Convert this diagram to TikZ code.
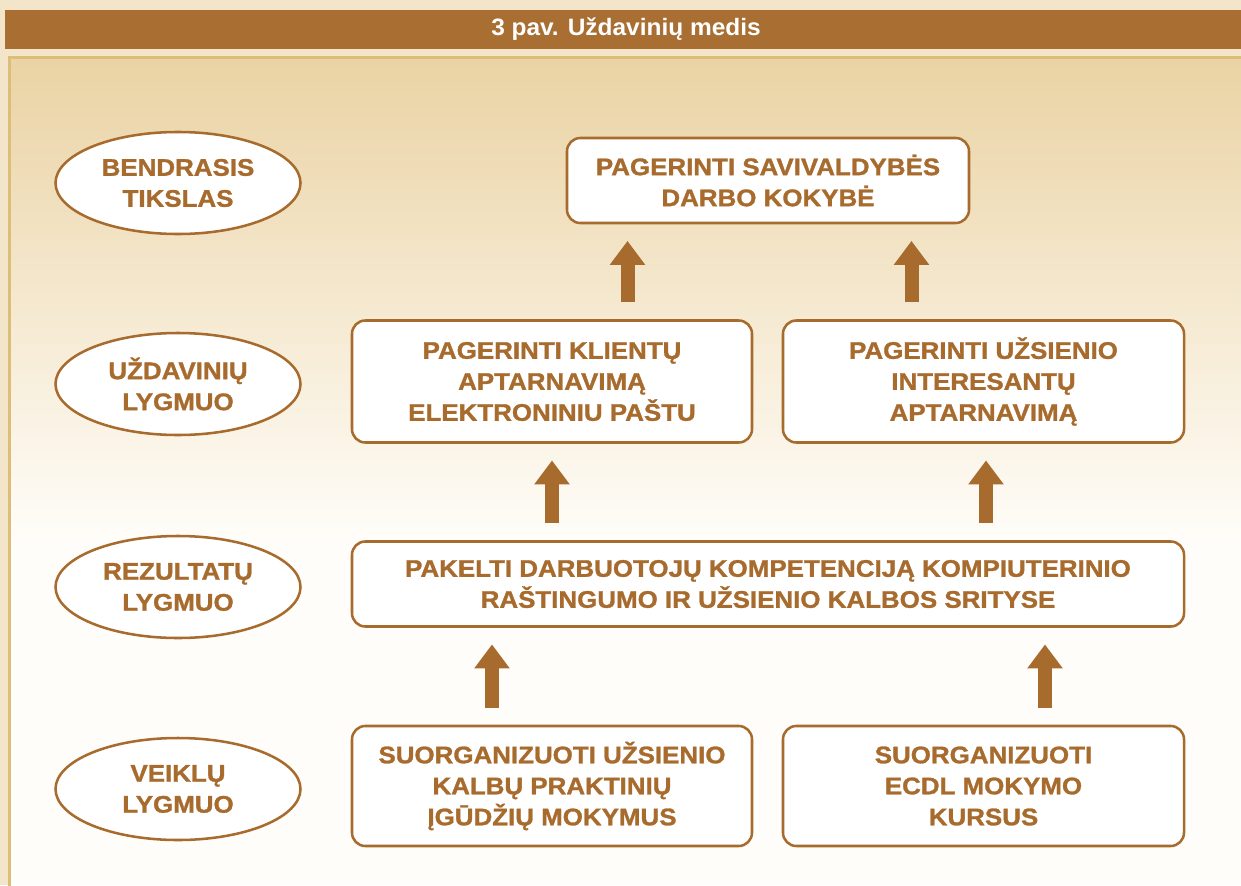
\documentclass[tikz,border=0pt]{standalone}
\usepackage{fontspec}
\setmainfont{Liberation Sans}
\newfontfamily\boxfont{Liberation Sans}[FakeStretch=1.08,FakeBold=1.2]
\newfontfamily\titlefont{Liberation Sans}[FakeStretch=1.03]
\usetikzlibrary{arrows.meta,shapes.geometric}
\definecolor{brn}{HTML}{A86B2E}
\definecolor{titlebar}{HTML}{A86E32}
\definecolor{pagebg}{HTML}{F3E5C9}
\definecolor{paneltop}{HTML}{EAD3A4}
\definecolor{panelbot}{HTML}{FFFDF9}
\definecolor{panelline}{HTML}{DDBE78}
\tikzset{
  lvl/.style={ellipse, draw=brn, line width=1.9pt, fill=white, text=brn,
    minimum width=183.75pt, minimum height=76.5pt, inner sep=0pt, align=center,
    font=\boxfont\bfseries\fontsize{18}{23.25}\selectfont},
  goalbox/.style={draw=brn, line width=1.9pt, rounded corners=10pt, fill=white, text=brn,
    inner sep=0pt, align=center, font=\boxfont\bfseries\fontsize{18}{23.25}\selectfont},
  bigarrow/.style={draw=brn, line width=10.5pt,
    -{Triangle[width=25.5pt,length=18pt]}, shorten <=12.75pt, shorten >=12.5pt},
  titletext/.style={text=white, font=\titlefont\bfseries\fontsize{17.8}{21}\selectfont, inner sep=0pt}
}
\begin{document}
\begin{tikzpicture}[x=0.75pt,y=0.75pt]
\useasboundingbox (0,0) rectangle (1241,-885);
\clip (0,0) rectangle (1241,-885);
% backgrounds
\fill[pagebg] (0,0) rectangle (1241,-885);
\fill[titlebar] (5,-10) rectangle (1241,-49);
\node[titletext] (title) at (626,-29.5) {3 pav. Uždavinių medis};
\shade[top color=paneltop, bottom color=panelbot] (9,-57) rectangle (1241,-540);
\fill[panelbot] (9,-540) rectangle (1241,-885);
\draw[panelline, line width=2.2pt] (9.5,-900) -- (9.5,-57.5) -- (1260,-57.5);
% level ellipses
\node[lvl] (l1) at (178,-183) {BENDRASIS\\TIKSLAS};
\node[lvl] (l2) at (178,-384) {UŽDAVINIŲ\\LYGMUO};
\node[lvl] (l3) at (178,-587) {REZULTATŲ\\LYGMUO};
\node[lvl] (l4) at (178,-789) {VEIKLŲ\\LYGMUO};
% boxes
\node[goalbox, minimum width=301.5pt, minimum height=63.75pt] (top) at (768,-180.5)
  {PAGERINTI SAVIVALDYBĖS\\DARBO KOKYBĖ};
\node[goalbox, minimum width=300pt, minimum height=91.5pt] (ml) at (552,-381.5)
  {PAGERINTI KLIENTŲ\\APTARNAVIMĄ\\ELEKTRONINIU PAŠTU};
\node[goalbox, minimum width=300.75pt, minimum height=91.5pt] (mr) at (983.5,-381.5)
  {PAGERINTI UŽSIENIO\\INTERESANTŲ\\APTARNAVIMĄ};
\node[goalbox, minimum width=624pt, minimum height=63.75pt] (res) at (768,-584)
  {PAKELTI DARBUOTOJŲ KOMPETENCIJĄ KOMPIUTERINIO\\RAŠTINGUMO IR UŽSIENIO KALBOS SRITYSE};
\node[goalbox, minimum width=300pt, minimum height=90pt] (bl) at (552,-786)
  {SUORGANIZUOTI UŽSIENIO\\KALBŲ PRAKTINIŲ\\ĮGŪDŽIŲ MOKYMUS};
\node[goalbox, minimum width=300.75pt, minimum height=90pt] (br) at (983.5,-786)
  {SUORGANIZUOTI\\ECDL MOKYMO\\KURSUS};
% arrow positions
\coordinate (a1) at (627.5,0);
\coordinate (a2) at (911.5,0);
\coordinate (a3) at (552,0);
\coordinate (a4) at (986,0);
\coordinate (a5) at (492,0);
\coordinate (a6) at (1045,0);
\draw[bigarrow] (ml.north -| a1) -- (top.south -| a1);
\draw[bigarrow] (mr.north -| a2) -- (top.south -| a2);
\draw[bigarrow] (res.north -| a3) -- (ml.south -| a3);
\draw[bigarrow] (res.north -| a4) -- (mr.south -| a4);
\draw[bigarrow] (bl.north -| a5) -- (res.south -| a5);
\draw[bigarrow] (br.north -| a6) -- (res.south -| a6);
\end{tikzpicture}
\end{document}
